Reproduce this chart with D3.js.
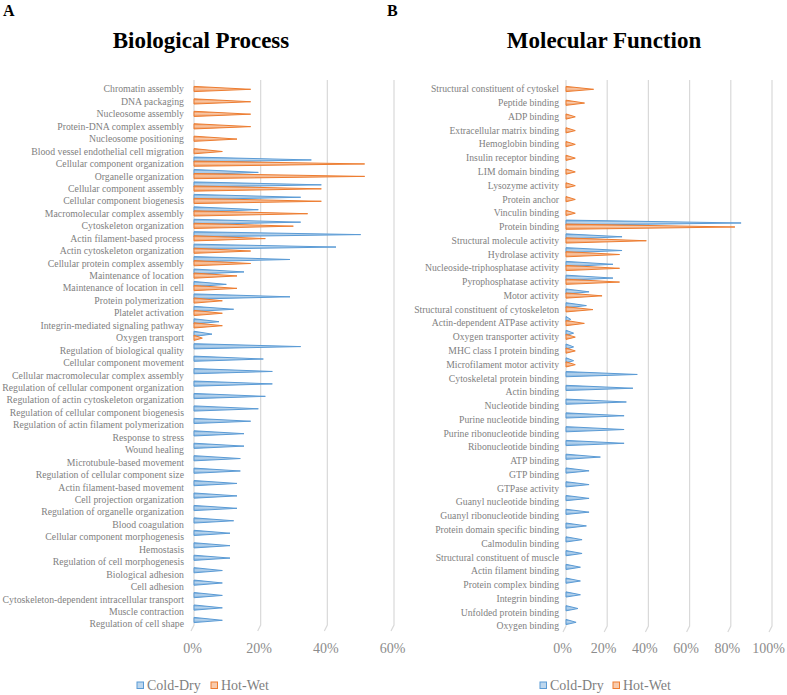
<!DOCTYPE html>
<html>
<head>
<meta charset="utf-8">
<script src="https://cdn.jsdelivr.net/npm/d3@7"></script>
<style>
  body { margin: 0; background: #fff; }
  svg text { font-family: "Liberation Serif", "DejaVu Serif", serif; }
</style>
</head>
<body>
<div id="vis"></div>
<script>
const WIDTH = 787;
const HEIGHT = 695;

// Biological Process (percent of proteins)
const bpCategories = [
  "Chromatin assembly", "DNA packaging", "Nucleosome assembly", "Protein-DNA complex assembly",
  "Nucleosome positioning", "Blood vessel endothelial cell migration", "Cellular component organization",
  "Organelle organization", "Cellular component assembly", "Cellular component biogenesis",
  "Macromolecular complex assembly", "Cytoskeleton organization", "Actin filament-based process",
  "Actin cytoskeleton organization", "Cellular protein complex assembly", "Maintenance of location",
  "Maintenance of location in cell", "Protein polymerization", "Platelet activation",
  "Integrin-mediated signaling pathway", "Oxygen transport", "Regulation of biological quality",
  "Cellular component movement", "Cellular macromolecular complex assembly",
  "Regulation of cellular component organization", "Regulation of actin cytoskeleton organization",
  "Regulation of cellular component biogenesis", "Regulation of actin filament polymerization",
  "Response to stress", "Wound healing", "Microtubule-based movement",
  "Regulation of cellular component size", "Actin filament-based movement", "Cell projection organization",
  "Regulation of organelle organization", "Blood coagulation", "Cellular component morphogenesis",
  "Hemostasis", "Regulation of cell morphogenesis", "Biological adhesion", "Cell adhesion",
  "Cytoskeleton-dependent intracellular transport", "Muscle contraction", "Regulation of cell shape"
];
const bpColdDry = [
  0, 0, 0, 0, 0, 0, 35.2, 19.3, 38.2, 32,
  19.3, 32, 50, 42.6, 28.8, 15, 9.7, 28.8, 11.9, 7.5,
  5.4, 32, 20.8, 23.5, 23.5, 21.4, 19.3, 17, 15, 15,
  13.9, 13.9, 12.9, 12.9, 12.9, 11.9, 10.8, 10.8, 10.8, 8.5,
  8.5, 8.5, 8.5, 8.5
];
const bpHotWet = [
  17, 17, 17, 17, 12.9, 8.5, 51.2, 51.2, 38.2, 38.2,
  34.1, 29.8, 21.4, 17, 17, 12.9, 12.9, 8.5, 8.5, 8.5,
  2.5, 0, 0, 0, 0, 0, 0, 0, 0, 0,
  0, 0, 0, 0, 0, 0, 0, 0, 0, 0,
  0, 0, 0, 0
];
const bpTicks = [0, 20, 40, 60];

// Molecular Function
const mfCategories = [
  "Structural constituent of cytoskel", "Peptide binding", "ADP binding", "Extracellular matrix binding",
  "Hemoglobin binding", "Insulin receptor binding", "LIM domain binding", "Lysozyme activity",
  "Protein anchor", "Vinculin binding", "Protein binding", "Structural molecule activity",
  "Hydrolase activity", "Nucleoside-triphosphatase activity", "Pyrophosphatase activity", "Motor activity",
  "Structural constituent of cytoskeleton", "Actin-dependent ATPase activity", "Oxygen transporter activity",
  "MHC class I protein binding", "Microfilament motor activity", "Cytoskeletal protein binding",
  "Actin binding", "Nucleotide binding", "Purine nucleotide binding", "Purine ribonucleotide binding",
  "Ribonucleotide binding", "ATP binding", "GTP binding", "GTPase activity", "Guanyl nucleotide binding",
  "Guanyl ribonucleotide binding", "Protein domain specific binding", "Calmodulin binding",
  "Structural constituent of muscle", "Actin filament binding", "Protein complex binding",
  "Integrin binding", "Unfolded protein binding", "Oxygen binding"
];
const mfColdDry = [
  0, 0, 0, 0, 0, 0, 0, 0, 0, 0,
  85, 27.2, 27.2, 22.8, 22.8, 11.2, 9.9, 2.3, 3.7, 3.7,
  3.7, 34.6, 32.5, 29.3, 28.2, 28.2, 28.2, 16.7, 11.2, 11.2,
  11.2, 11.2, 9.9, 7.8, 7.8, 7, 7, 7, 5.8, 4.9
];
const mfHotWet = [
  13.4, 9, 4.5, 4.5, 4.5, 4.5, 4.5, 4.5, 4.5, 4.5,
  82, 39, 26, 26, 26, 17.5, 13.1, 8.9, 4.5, 4.5,
  4.5, 0, 0, 0, 0, 0, 0, 0, 0, 0,
  0, 0, 0, 0, 0, 0, 0, 0, 0, 0
];
const mfTicks = [0, 20, 40, 60, 80, 100];

const seriesNames = ["Cold-Dry", "Hot-Wet"];
const seriesStroke = ["#5b9bd5", "#ed7d31"];
const seriesFill = ["#bdd7ee", "#f8cbad"];
const seriesOffset = [-4, 0];   // blue sits just above the orange slot

const svg = d3.select("#vis").append("svg")
  .attr("width", WIDTH)
  .attr("height", HEIGHT);

const defs = svg.append("defs");
seriesNames.forEach((s, i) => {
  const g = defs.append("linearGradient")
    .attr("id", "grad" + i)
    .attr("x1", 0).attr("y1", 0).attr("x2", 0).attr("y2", 1);
  g.append("stop").attr("offset", "0%").attr("stop-color", seriesStroke[i]);
  g.append("stop").attr("offset", "45%").attr("stop-color", seriesFill[i]);
  g.append("stop").attr("offset", "100%").attr("stop-color", seriesStroke[i]).attr("stop-opacity", 0.8);
});

function drawPanel(p) {
  const x = d3.scaleLinear().domain(p.domain).range(p.xRange);
  const y = d3.scalePoint().domain(p.categories).range(p.yRange);
  const g = svg.append("g");

  // grid lines with the little 3D floor kink at the bottom
  g.selectAll(".grid")
    .data(p.ticks)
    .enter().append("path")
      .attr("d", d => "M" + x(d) + "," + p.gridTop + "V" + (p.gridBottom - 6) +
                      "L" + (x(d) - 3) + "," + p.gridBottom)
      .attr("fill", "none")
      .attr("stroke", "#d9d9d9")
      .attr("stroke-width", 1.2);

  // category labels, shrunk so the longest one fits the space left of the axis
  const labels = g.selectAll(".cat")
    .data(p.categories)
    .enter().append("text")
      .attr("x", p.labelRight)
      .attr("y", d => y(d))
      .attr("dy", "0.35em")
      .attr("text-anchor", "end")
      .attr("font-size", 10)
      .attr("fill", "#7f7f7f")
      .text(d => d);
  let widest = 0;
  labels.each(function() { widest = Math.max(widest, this.getComputedTextLength()); });
  labels.attr("font-size", 10 * Math.min(1, p.labelWidth / widest));

  // pyramid bars
  const h = 2.6;
  [p.cold, p.hot].forEach((vals, si) => {
    g.selectAll(".bar" + si)
      .data(p.categories.map((c, i) => ({c: c, v: vals[i]})).filter(d => d.v > 0))
      .enter().append("path")
        .attr("d", d => {
          const yc = y(d.c) + seriesOffset[si];
          const x0 = x(0), x1 = x(d.v);
          return "M" + x0 + "," + (yc - h) + "L" + x1 + "," + (yc + 0.3) +
                 "L" + x0 + "," + (yc + h) + "Z";
        })
        .attr("fill", "url(#grad" + si + ")")
        .attr("stroke", seriesStroke[si])
        .attr("stroke-width", 1)
        .attr("stroke-linejoin", "round");
  });

  // tick labels
  g.selectAll(".tick")
    .data(p.ticks)
    .enter().append("text")
      .attr("x", d => x(d) + p.tickShift)
      .attr("y", 653)
      .attr("text-anchor", "middle")
      .attr("font-size", 14)
      .attr("fill", "#8c8c8c")
      .text(d => d + "%");

  // title
  g.append("text")
    .attr("x", p.titleX)
    .attr("y", 48)
    .attr("text-anchor", "middle")
    .attr("font-size", 23)
    .attr("font-weight", "bold")
    .attr("fill", "#000")
    .text(p.title);

  g.append("text")
    .attr("x", p.letterX)
    .attr("y", 16)
    .attr("font-size", 16)
    .attr("font-weight", "bold")
    .text(p.letter);

  // legend
  const leg = g.selectAll(".leg")
    .data(seriesNames)
    .enter().append("g")
      .attr("transform", (d, i) => "translate(" + p.legendX[i] + ",682)");
  leg.append("rect")
    .attr("width", 6.5).attr("height", 6.5)
    .attr("fill", (d, i) => seriesFill[i])
    .attr("stroke", (d, i) => seriesStroke[i])
    .attr("stroke-width", 1);
  leg.append("text")
    .attr("x", 10)
    .attr("y", 7.5)
    .attr("font-size", 14)
    .attr("fill", "#7f7f7f")
    .text(d => d);
}

drawPanel({
  categories: bpCategories, cold: bpColdDry, hot: bpHotWet, ticks: bpTicks,
  domain: [0, 60], xRange: [194, 394], yRange: [89, 624],
  gridTop: 80, gridBottom: 631, labelRight: 184, labelWidth: 182,
  tickShift: -1.5, title: "Biological Process", titleX: 201, letter: "A", letterX: 3,
  legendX: [137, 211]
});

drawPanel({
  categories: mfCategories, cold: mfColdDry, hot: mfHotWet, ticks: mfTicks,
  domain: [0, 100], xRange: [566, 772], yRange: [89, 626],
  gridTop: 80, gridBottom: 632, labelRight: 559, labelWidth: 145,
  tickShift: -3.5, title: "Molecular Function", titleX: 604, letter: "B", letterX: 387,
  legendX: [540, 613]
});
</script>
</body>
</html>
